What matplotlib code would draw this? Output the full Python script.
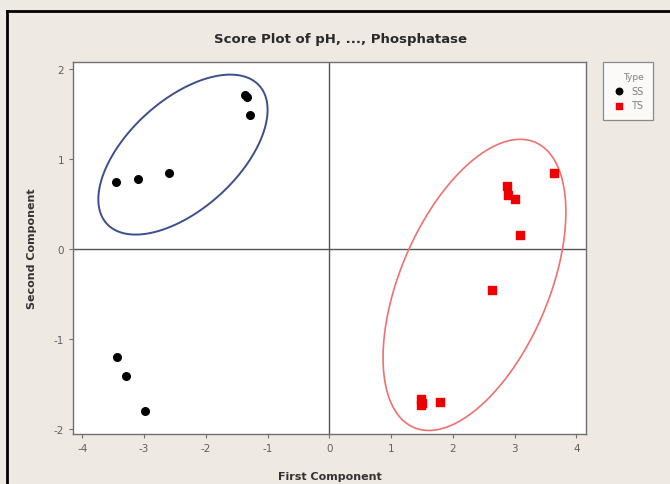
import numpy as np
import matplotlib
matplotlib.use("Agg")
import matplotlib.pyplot as plt
from matplotlib.lines import Line2D

plt.rcParams["axes.unicode_minus"] = False

# puntos del grafico de scores
ss_x = [-3.46, -3.09, -2.59, -1.33, -1.36, -1.28, -3.43, -3.30, -2.98]
ss_y = [0.74, 0.78, 0.84, 1.69, 1.71, 1.49, -1.20, -1.41, -1.80]
ts_x = [3.64, 2.88, 2.90, 3.01, 3.08, 2.63, 1.48, 1.48, 1.50, 1.79]
ts_y = [0.85, 0.70, 0.60, 0.56, 0.16, -0.46, -1.67, -1.74, -1.71, -1.70]

# elipses: centro x, centro y, semiancho x, semialto y, fase (grados)
elipse_ss = [-2.37, 1.05, 1.37, 0.89, 56]
elipse_ts = [2.35, -0.40, 1.48, 1.62, 60]

x_ticks = [-4, -3, -2, -1, 0, 1, 2, 3, 4]
y_ticks = [-2, -1, 0, 1, 2]

fondo = "#efe9e3"
gris = "#707070"

fig = plt.figure(figsize=(6.7, 4.85), dpi=100, facecolor=fondo)
ax = fig.add_axes([0.109, 0.103, 0.766, 0.767])
ax.set_facecolor("white")

ax.axhline(0, color="#555555", lw=1.0, zorder=1)
ax.axvline(0, color="#555555", lw=1.0, zorder=1)

def dibujar_elipse(p, color, lw):
    cx, cy, ax_, ay_, fase = p
    t = np.linspace(0, 2 * np.pi, 361)
    ex = cx + ax_ * np.cos(t)
    ey = cy + ay_ * np.cos(t - np.radians(fase))
    ax.fill(ex, ey, facecolor="none", edgecolor=color, lw=lw, zorder=2)

dibujar_elipse(elipse_ss, "#3c4f8a", 1.4)
dibujar_elipse(elipse_ts, "#f07070", 1.2)

ax.scatter(ss_x, ss_y, marker="o", s=30, color="black", zorder=3, label="SS")
ax.scatter(ts_x, ts_y, marker="s", s=26, color="#ee0000", zorder=3, label="TS")

ax.set_xlim(-4.15, 4.16)
ax.set_ylim(-2.06, 2.08)
ax.set_xticks(x_ticks)
ax.set_yticks(y_ticks)
ax.tick_params(direction="out", length=3, width=0.8, colors=gris, labelsize=7.5,
               labelcolor="#606060")
for s in ax.spines.values():
    s.set_color(gris)
    s.set_linewidth(1.0)

ax.set_xlabel("First Component", fontsize=8, fontweight="bold", color="#333333")
ax.set_ylabel("Second Component", fontsize=8, fontweight="bold", color="#333333")
ax.xaxis.set_label_coords(0.5, -0.098)
ax.yaxis.set_label_coords(-0.07, 0.5)

fig.text(0.508, 0.918, "Score Plot of pH, ..., Phosphatase", ha="center", va="center",
         fontsize=9.5, fontweight="bold", color="#2a2a2a")

leg = fig.legend(loc="upper left", bbox_to_anchor=(0.9, 0.87), title="Type",
                 fontsize=7, title_fontsize=6.5, frameon=True, fancybox=False,
                 markerscale=0.85, handletextpad=0.6, borderpad=1.0,
                 labelspacing=0.5, handlelength=1.3, alignment="right",
                 borderaxespad=0)
leg.get_frame().set_edgecolor(gris)
leg.get_frame().set_linewidth(0.9)
for t in leg.get_texts():
    t.set_color("#808080")
leg.get_title().set_color("#808080")

# borde negro arriba e izquierda
fig.add_artist(Line2D([0.0105, 1.0], [0.975, 0.975], color="black", lw=2,
                      transform=fig.transFigure))
fig.add_artist(Line2D([0.0105, 0.0105], [0.0, 0.975], color="black", lw=2,
                      transform=fig.transFigure))

fig.savefig("out.png", dpi=100, facecolor=fondo)
